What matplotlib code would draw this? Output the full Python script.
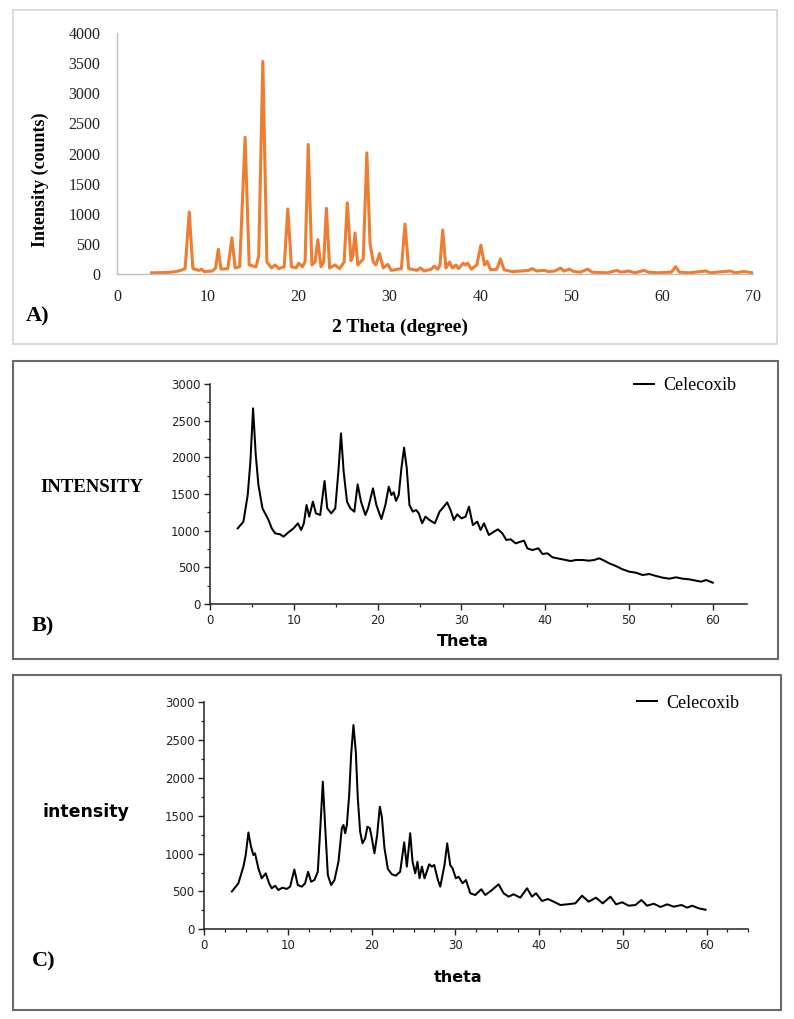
import matplotlib
matplotlib.use("Agg")
import matplotlib.pyplot as plt
from matplotlib.patches import Rectangle
from matplotlib.ticker import MultipleLocator

# ---------------- data ----------------
# Panel A: XRD pattern, 2 Theta (degree) vs intensity (counts)
a_theta = [3.8, 5.5, 6.5, 7.0, 7.5, 7.95, 8.35, 9.0, 9.3, 9.6, 10.5, 10.85, 11.15, 11.45,
           12.2, 12.65, 13.0, 13.5, 14.1, 14.55, 15.3, 15.6, 16.05, 16.5, 17.0, 17.4, 17.8,
           18.4, 18.8, 19.2, 19.7, 20.0, 20.4, 20.7, 21.05, 21.45, 21.8, 22.1, 22.45, 22.75,
           23.05, 23.4, 24.0, 24.5, 25.0, 25.35, 25.75, 25.95, 26.2, 26.5, 27.1, 27.5, 27.85,
           28.2, 28.5, 28.9, 29.3, 29.8, 30.2, 31.3, 31.7, 32.1, 33.0, 33.4, 33.8, 34.6, 34.9,
           35.3, 35.55, 35.85, 36.2, 36.6, 36.9, 37.3, 37.6, 38.1, 38.3, 38.6, 39.0, 39.6,
           40.05, 40.45, 40.75, 41.1, 41.8, 42.2, 42.6, 43.5, 44.5, 45.3, 45.7, 46.2, 47.0,
           47.5, 48.2, 48.8, 49.2, 49.8, 50.3, 51.0, 51.8, 52.3, 54.0, 55.0, 55.5, 56.3, 57.0,
           58.0, 58.5, 59.5, 61.0, 61.5, 61.9, 63.0, 64.8, 65.3, 67.5, 68.0, 69.0, 70.0]
a_counts = [20, 25, 40, 60, 90, 1030, 90, 60, 80, 40, 50, 100, 410, 80,
            90, 600, 100, 120, 2270, 150, 120, 300, 3530, 200, 100, 150, 90,
            120, 1080, 120, 100, 180, 120, 200, 2150, 150, 200, 570, 120, 200,
            1090, 100, 150, 90, 200, 1180, 220, 300, 680, 150, 250, 2010, 500,
            200, 150, 340, 100, 160, 60, 90, 830, 90, 60, 100, 50, 80, 130,
            80, 150, 730, 100, 200, 100, 150, 90, 180, 150, 180, 80, 150,
            480, 150, 210, 70, 80, 250, 70, 40, 50, 60, 90, 50, 60,
            40, 50, 100, 50, 80, 40, 30, 80, 30, 20, 60, 30, 50, 20,
            60, 30, 20, 30, 120, 30, 20, 50, 20, 50, 20, 40, 20]

# Panel B: Celecoxib, Theta vs intensity
b_theta = [3.31, 3.99, 4.5, 4.82, 5.14, 5.46, 5.78, 6.26, 6.78, 6.98, 7.37, 7.77, 8.37, 8.77,
           9.37, 9.97, 10.49, 10.88, 11.2, 11.52, 11.84, 12.28, 12.64, 13.15, 13.67, 13.99,
           14.47, 14.95, 15.35, 15.63, 15.95, 16.35, 16.74, 17.22, 17.62, 18.02, 18.54, 18.86,
           19.45, 19.85, 20.45, 20.93, 21.33, 21.65, 21.92, 22.2, 22.52, 22.84, 23.16, 23.48,
           23.8, 24.2, 24.6, 24.92, 25.31, 25.71, 26.19, 26.83, 27.39, 27.9, 28.3, 28.7, 29.1,
           29.5, 30.0, 30.5, 30.9, 31.37, 31.9, 32.29, 32.69, 33.28, 33.88, 34.36, 34.88,
           35.36, 35.88, 36.47, 37.07, 37.47, 37.87, 38.47, 39.19, 39.67, 40.27, 40.86, 41.66,
           42.45, 43.05, 43.65, 44.45, 45.24, 45.84, 46.44, 47.04, 47.63, 48.43, 49.23, 50.03,
           50.83, 51.63, 52.42, 53.22, 54.02, 54.81, 55.61, 56.41, 57.2, 58.0, 58.6, 59.2, 60.0]
b_int = [1032, 1123, 1486, 1940, 2668, 2032, 1623, 1305, 1191, 1145, 1032, 964, 950, 918,
         978, 1032, 1100, 1009, 1100, 1350, 1191, 1395, 1236, 1214, 1677, 1305,
         1236, 1305, 1850, 2327, 1805, 1395, 1305, 1259, 1632, 1395, 1214, 1305,
         1577, 1350, 1159, 1350, 1600, 1486, 1523, 1405, 1486, 1850, 2132, 1850,
         1350, 1259, 1282, 1236, 1100, 1191, 1145, 1100, 1259, 1327, 1386, 1282, 1145,
         1223, 1168, 1191, 1327, 1077, 1123, 1009, 1100, 941, 986, 1018, 964,
         873, 882, 827, 850, 864, 759, 736, 759, 682, 691, 637, 618,
         600, 586, 600, 600, 591, 600, 623, 591, 555, 518, 473, 441,
         427, 395, 409, 382, 359, 345, 364, 345, 336, 318, 305, 327, 291]

# Panel C: Celecoxib, theta vs intensity
c_theta = [3.3, 4.07, 4.67, 4.95, 5.27, 5.58, 5.86, 6.06, 6.46, 6.86, 7.34, 7.74, 8.06, 8.46,
           8.85, 9.33, 9.85, 10.25, 10.76, 11.17, 11.65, 12.04, 12.4, 12.76, 13.16, 13.56,
           13.88, 14.16, 14.43, 14.76, 15.15, 15.55, 16.03, 16.43, 16.63, 16.83, 17.03, 17.31,
           17.54, 17.82, 18.1, 18.34, 18.62, 18.9, 19.22, 19.49, 19.78, 20.02, 20.33, 20.65,
           20.97, 21.21, 21.53, 21.93, 22.41, 22.89, 23.4, 23.88, 24.2, 24.6, 24.88, 25.2,
           25.47, 25.71, 26.0, 26.31, 26.87, 27.19, 27.47, 27.91, 28.19, 28.7, 29.02, 29.38,
           29.66, 30.06, 30.38, 30.86, 31.26, 31.78, 32.37, 33.09, 33.57, 34.37, 35.16, 35.76,
           36.36, 36.95, 37.75, 38.56, 39.15, 39.63, 40.35, 41.06, 41.74, 42.54, 43.34, 44.33,
           45.13, 45.92, 46.8, 47.6, 48.52, 49.2, 49.92, 50.7, 51.51, 52.22, 52.9, 53.7, 54.5,
           55.3, 56.09, 57.01, 57.69, 58.29, 59.08, 59.88]
c_int = [500, 608, 828, 982, 1280, 1092, 982, 1004, 806, 674, 740, 608, 542, 576,
         519, 550, 533, 563, 790, 585, 563, 608, 760, 629, 651, 761,
         1378, 1950, 1378, 718, 585, 651, 893, 1335, 1378, 1269, 1378, 1775,
         2303, 2700, 2347, 1731, 1290, 1136, 1202, 1356, 1335, 1202, 1004, 1246,
         1620, 1488, 1070, 797, 727, 709, 761, 1150, 828, 1270, 893, 740,
         893, 674, 828, 674, 859, 828, 850, 651, 563, 850, 1136, 850,
         806, 674, 695, 608, 651, 476, 453, 529, 453, 519, 595, 476,
         431, 463, 418, 542, 431, 476, 374, 400, 365, 321, 330, 343,
         444, 365, 418, 343, 431, 330, 357, 312, 321, 387, 312, 338, 295,
         330, 299, 321, 286, 312, 277, 259]

a_xticks = list(range(0, 71, 10))
a_yticks = list(range(0, 4001, 500))
series_label = "Celecoxib"

# ---------------- layout helpers ----------------
W, H = 794, 1019
fig = plt.figure(figsize=(W / 100, H / 100), dpi=100)


def fx(px):
    return px / W


def fy(py):
    return 1 - py / H


def frame(x0, y0, x1, y1, color, lw):
    fig.add_artist(Rectangle((fx(x0), fy(y1)), fx(x1) - fx(x0), fy(y0) - fy(y1),
                             transform=fig.transFigure, fill=False, ec=color, lw=lw))


SERIF = "Liberation Serif"
SANS = "DejaVu Sans"

# ---------------- Panel A ----------------
frame(13, 10, 777, 344, "#d4d4d4", 1.2)
axA = fig.add_axes([fx(117), fy(274), fx(753) - fx(117), fy(33) - fy(274)])
axA.plot(a_theta, a_counts, color="#ED7D31", lw=2.2, solid_joinstyle="round")
axA.set_xlim(0, 70)
axA.set_ylim(0, 4000)
axA.set_xticks(a_xticks)
axA.set_yticks(a_yticks)
for s in ("top", "right"):
    axA.spines[s].set_visible(False)
for s in ("left", "bottom"):
    axA.spines[s].set_color("#bfbfbf")
    axA.spines[s].set_linewidth(1.0)
axA.tick_params(axis="x", length=0, pad=11, labelsize=11.5, labelcolor="#222222")
axA.tick_params(axis="y", length=0, pad=12, labelsize=11.5, labelcolor="#222222")
for lab in axA.get_xticklabels() + axA.get_yticklabels():
    lab.set_family(SERIF)
fig.text(fx(40), fy(180), "Intensity (counts)", rotation=90, ha="center", va="center",
         family=SERIF, weight="bold", fontsize=13)
fig.text(fx(400), fy(332), "2 Theta (degree)", ha="center", va="baseline",
         family=SERIF, weight="bold", fontsize=14)
fig.text(fx(26), fy(316), "A)", ha="left", va="center", family=SERIF, weight="bold",
         fontsize=16)


def origin_axes(ax, xmax, xminor):
    ax.set_xlim(0, xmax)
    ax.set_ylim(0, 3000)
    ax.xaxis.set_major_locator(MultipleLocator(10))
    ax.xaxis.set_minor_locator(MultipleLocator(xminor))
    ax.yaxis.set_major_locator(MultipleLocator(500))
    ax.yaxis.set_minor_locator(MultipleLocator(250))
    for s in ("top", "right"):
        ax.spines[s].set_visible(False)
    for s in ("left", "bottom"):
        ax.spines[s].set_linewidth(1.1)
        ax.spines[s].set_color("#222222")
    ax.tick_params(which="major", direction="out", length=4, width=1.0, labelsize=8.5,
                   pad=3, color="#222222", labelcolor="#222222")
    ax.tick_params(which="minor", direction="out", length=2.5, width=0.9, color="#222222")
    for lab in ax.get_xticklabels() + ax.get_yticklabels():
        lab.set_family(SANS)


# ---------------- Panel B ----------------
frame(13, 361, 778, 659, "#6a6a6a", 1.5)
axB = fig.add_axes([fx(210), fy(604), 64.05 * 8.38 / W, (604 - 384) / H])
axB.plot(b_theta, b_int, color="black", lw=1.45, label=series_label)
origin_axes(axB, 64.05, 5)
axB.legend(loc="center left", bbox_to_anchor=(fx(634), fy(386)), bbox_transform=fig.transFigure,
           frameon=False, borderpad=0, borderaxespad=0, handlelength=1.1, handletextpad=0.5,
           prop={"family": SERIF, "size": 13})
fig.text(fx(40), fy(492), "INTENSITY", ha="left", va="baseline", family=SERIF,
         weight="bold", fontsize=13.5)
fig.text(fx(463), fy(646), "Theta", ha="center", va="baseline", family=SANS,
         weight="bold", fontsize=11.5)
fig.text(fx(32), fy(626), "B)", ha="left", va="center", family=SERIF, weight="bold",
         fontsize=16)

# ---------------- Panel C ----------------
frame(13, 675, 781, 1010, "#6a6a6a", 1.5)
axC = fig.add_axes([fx(204.3), fy(929.3), 65 * 8.37 / W, (929.3 - 702.3) / H])
axC.plot(c_theta, c_int, color="black", lw=1.45, label=series_label)
origin_axes(axC, 65, 2.5)
axC.legend(loc="center left", bbox_to_anchor=(fx(637), fy(703)), bbox_transform=fig.transFigure,
           frameon=False, borderpad=0, borderaxespad=0, handlelength=1.1, handletextpad=0.5,
           prop={"family": SERIF, "size": 13})
fig.text(fx(43), fy(817), "intensity", ha="left", va="baseline", family=SANS,
         weight="bold", fontsize=12.5)
fig.text(fx(458), fy(982), "theta", ha="center", va="baseline", family=SANS,
         weight="bold", fontsize=11.5)
fig.text(fx(32), fy(961), "C)", ha="left", va="center", family=SERIF, weight="bold",
         fontsize=16)

fig.savefig("out.png", dpi=100, facecolor="white")
